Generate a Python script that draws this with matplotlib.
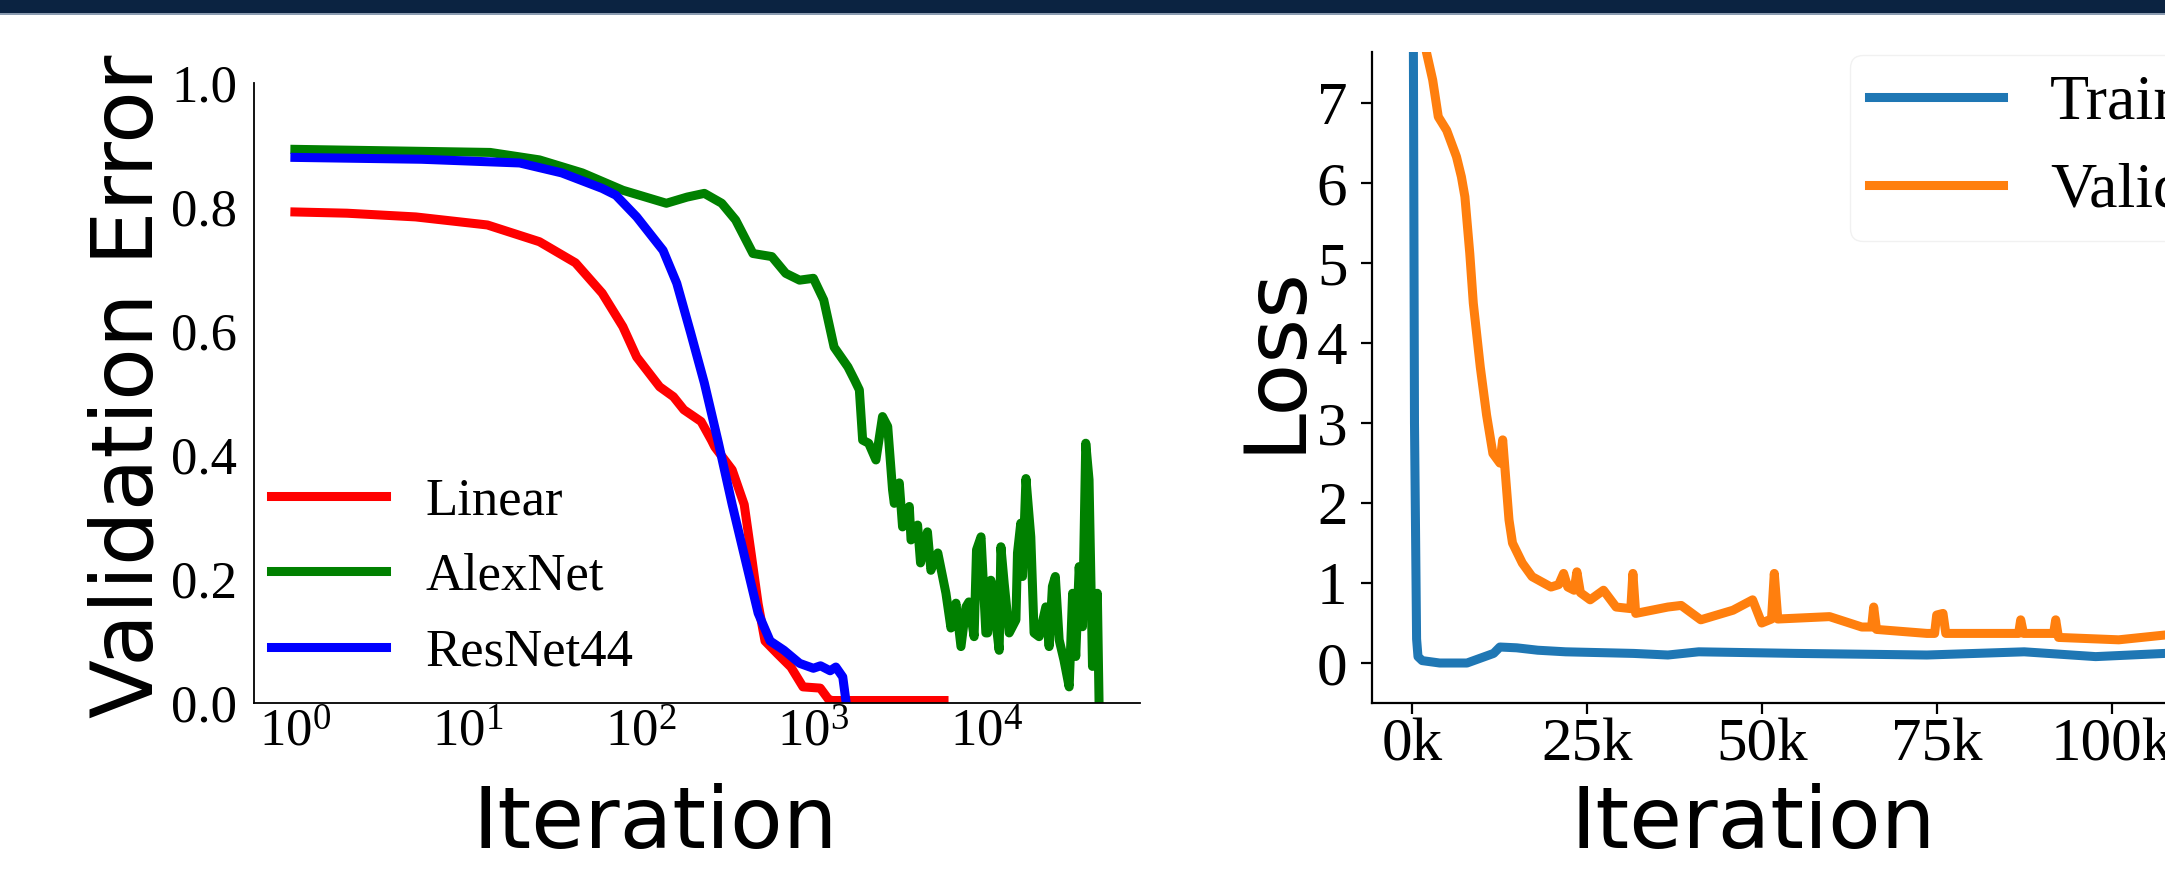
import numpy as np
import matplotlib
matplotlib.use('Agg')
import matplotlib.pyplot as plt
from matplotlib.patches import Rectangle
from matplotlib.ticker import FuncFormatter, MultipleLocator

plt.rcParams['font.family'] = 'Liberation Serif'
plt.rcParams['mathtext.fontset'] = 'custom'
plt.rcParams['mathtext.rm'] = 'Liberation Serif'
plt.rcParams['mathtext.it'] = 'Liberation Serif:italic'

# left panel: validation error vs iteration (log x)
linear_it = [1, 2, 5, 13, 26, 42, 60, 79, 95, 129, 155, 178, 224, 257, 269, 339,
             398, 437, 479, 525, 617, 741, 871, 1096, 1230, 1300, 5700]
linear_err = [0.792, 0.790, 0.784, 0.771, 0.744, 0.71, 0.661, 0.607, 0.558, 0.51,
              0.494, 0.473, 0.454, 0.424, 0.413, 0.376, 0.32, 0.24, 0.16, 0.10,
              0.08, 0.058, 0.026, 0.024, 0.005, 0.004, 0.004]

alexnet_it = [1, 13.5, 26, 46, 79, 141, 186, 234, 295, 355, 447, 575, 692, 832, 1000,
              1148, 1318, 1585, 1738, 1845, 1928, 2089, 2301, 2512, 2692, 2871, 2938,
              3141, 3281, 3589, 3673, 4009, 4169, 4571, 4786, 5248, 5848, 6252, 6683,
              7145, 7638, 7943, 8511, 8790, 9333, 9954, 10186, 10641, 11117, 11885,
              12162, 12706, 13583, 14859, 15171, 15849, 16218, 16982, 18113, 18923,
              20230, 22131, 23121, 24155, 25119, 26424, 28184, 30200, 31623, 32961,
              34514, 36058, 37670, 39355, 41210, 43954, 44978]
alexnet_err = [0.893, 0.888, 0.876, 0.855, 0.827, 0.806, 0.816, 0.822, 0.806, 0.779,
               0.725, 0.72, 0.693, 0.682, 0.685, 0.65, 0.574, 0.542, 0.52, 0.505,
               0.424, 0.419, 0.392, 0.462, 0.446, 0.344, 0.322, 0.355, 0.284, 0.317,
               0.263, 0.287, 0.226, 0.276, 0.214, 0.242, 0.177, 0.121, 0.161, 0.091,
               0.155, 0.163, 0.107, 0.247, 0.268, 0.113, 0.113, 0.198, 0.155, 0.085,
               0.252, 0.193, 0.113, 0.134, 0.242, 0.29, 0.204, 0.362, 0.268, 0.113,
               0.107, 0.155, 0.091, 0.188, 0.204, 0.102, 0.069, 0.026, 0.177, 0.075,
               0.22, 0.123, 0.419, 0.36, 0.059, 0.177, 0.0]

resnet_it = [1, 5.4, 20, 35, 60, 72, 95, 135, 162, 195, 234, 282, 339, 417, 479, 562,
             676, 832, 1000, 1100, 1250, 1349, 1479, 1549]
resnet_err = [0.88, 0.877, 0.871, 0.855, 0.83, 0.819, 0.784, 0.73, 0.677, 0.597,
              0.516, 0.42, 0.32, 0.215, 0.145, 0.10, 0.085, 0.064, 0.056, 0.06,
              0.052, 0.058, 0.042, 0.0]

# right panel: loss vs iteration
train_it = [0, 400, 700, 900, 1500, 4000, 7900, 11700, 12600, 15000, 18000, 22000,
            31700, 36600, 41000, 55000, 73600, 87500, 97700, 107600, 113000]
train_loss = [15.0, 3.0, 0.3, 0.08, 0.03, 0.0, 0.0, 0.12, 0.20, 0.19, 0.16, 0.14,
              0.12, 0.10, 0.14, 0.12, 0.10, 0.14, 0.08, 0.12, 0.12]

val_it = [1200, 2100, 3000, 3800, 5000, 6400, 7100, 7600, 8300, 8800, 9800, 10700,
          11600, 12600, 13000, 13900, 14400, 15800, 17200, 19900, 21000, 21700, 22300,
          23200, 23600, 24100, 25500, 27400, 29200, 31300, 31600, 32000, 36600, 38500,
          41300, 45900, 48700, 50000, 51400, 51800, 52300, 59700, 64300, 65700, 66000,
          66400, 73600, 74700, 75000, 75900, 76300, 82800, 86700, 87000, 87400, 91700,
          92000, 92400, 101000, 107600, 113000]
val_loss = [9.0, 7.64, 7.29, 6.83, 6.66, 6.33, 6.08, 5.83, 5.12, 4.5, 3.70, 3.10,
            2.62, 2.5, 2.79, 1.79, 1.5, 1.25, 1.08, 0.95, 0.98, 1.12, 0.95, 0.91,
            1.14, 0.88, 0.79, 0.91, 0.70, 0.68, 1.12, 0.62, 0.70, 0.72, 0.54, 0.66,
            0.79, 0.5, 0.55, 1.12, 0.55, 0.58, 0.45, 0.45, 0.70, 0.42, 0.37, 0.37,
            0.6, 0.62, 0.37, 0.37, 0.37, 0.54, 0.37, 0.37, 0.54, 0.32, 0.29, 0.35, 0.33]

W, H = 2165, 869
fig = plt.figure(figsize=(W / 100, H / 100), dpi=100)

# dark strip along the top edge
fig.add_artist(Rectangle((0, 1 - 13 / H), 1, 13 / H, transform=fig.transFigure,
                         facecolor='#0b2341', edgecolor='none'))
fig.add_artist(Rectangle((0, 1 - 15 / H), 1, 2 / H, transform=fig.transFigure,
                         facecolor='#8a9bb0', edgecolor='none'))

label_font = dict(family='DejaVu Sans', fontsize=62)
lw = 6.5

# ---- left panel ----
ax1 = fig.add_axes([254 / W, 1 - 703 / H, (1140 - 254) / W, (703 - 83) / H])
ax1.plot(linear_it, linear_err, color='r', lw=lw, label='Linear')
ax1.plot(alexnet_it, alexnet_err, color='g', lw=lw, label='AlexNet')
ax1.plot(resnet_it, resnet_err, color='b', lw=lw, label='ResNet44')
ax1.set_xscale('log')
ax1.set_xlim(0.58, 77600)
ax1.set_ylim(0, 1.0)
ax1.set_yticks([0.0, 0.2, 0.4, 0.6, 0.8, 1.0])
for s in ['top', 'right']:
    ax1.spines[s].set_visible(False)
for s in ['left', 'bottom']:
    ax1.spines[s].set_linewidth(1.3)
ax1.tick_params(axis='both', which='both', length=0, labelsize=38)
ax1.tick_params(axis='y', pad=12)
ax1.tick_params(axis='x', pad=4)
ax1.set_xlabel('Iteration', **label_font)
ax1.set_ylabel('Validation Error', **label_font)
ax1.xaxis.set_label_coords(655 / W, 1 - 848 / H, transform=fig.transFigure)
ax1.xaxis.label.set_verticalalignment('baseline')
ax1.yaxis.set_label_coords(152 / W, 1 - 386 / H, transform=fig.transFigure)
ax1.yaxis.label.set_verticalalignment('baseline')
ax1.legend(loc='upper left', bbox_to_anchor=(250 / W, 1 - 456 / H),
           bbox_transform=fig.transFigure, borderaxespad=0, frameon=False,
           fontsize=38, handlelength=2.18, handletextpad=0.74, labelspacing=0.52,
           borderpad=0.4)

# ---- right panel ----
ax2 = fig.add_axes([1372 / W, 1 - 703 / H, 872.7 / W, (703 - 52) / H])
ax2.plot(train_it, train_loss, color='#1f77b4', lw=lw, label='Training')
ax2.plot(val_it, val_loss, color='#ff7f0e', lw=lw, label='Validation')
ax2.set_xlim(-5670, 119000)
ax2.set_ylim(-0.5, 7.64)
ax2.xaxis.set_major_locator(MultipleLocator(25000))
ax2.xaxis.set_major_formatter(FuncFormatter(lambda v, p: f'{v / 1000:.0f}k'))
ax2.set_yticks(range(0, 8))
for s in ['top', 'right']:
    ax2.spines[s].set_visible(False)
for s in ['left', 'bottom']:
    ax2.spines[s].set_linewidth(1.6)
ax2.tick_params(axis='both', length=7.7, width=1.6, labelsize=44)
ax2.tick_params(axis='y', pad=10)
ax2.tick_params(axis='x', pad=3)
ax2.set_xlabel('Iteration', **label_font)
ax2.set_ylabel('Loss', **label_font)
ax2.xaxis.set_label_coords(1753 / W, 1 - 848 / H, transform=fig.transFigure)
ax2.xaxis.label.set_verticalalignment('baseline')
ax2.yaxis.set_label_coords(1298 / W, 1 - 358 / H, transform=fig.transFigure)
ax2.yaxis.label.set_verticalalignment('baseline')
leg = ax2.legend(loc='upper left', bbox_to_anchor=(1850 / W, 1 - 55 / H),
                 bbox_transform=fig.transFigure, borderaxespad=0, fontsize=46,
                 handlelength=2.1, handletextpad=0.73, labelspacing=0.47,
                 borderpad=0.3, fancybox=True, framealpha=0.8)
leg.get_frame().set_edgecolor('#eeeeee')

fig.savefig('out.png', dpi=100)
